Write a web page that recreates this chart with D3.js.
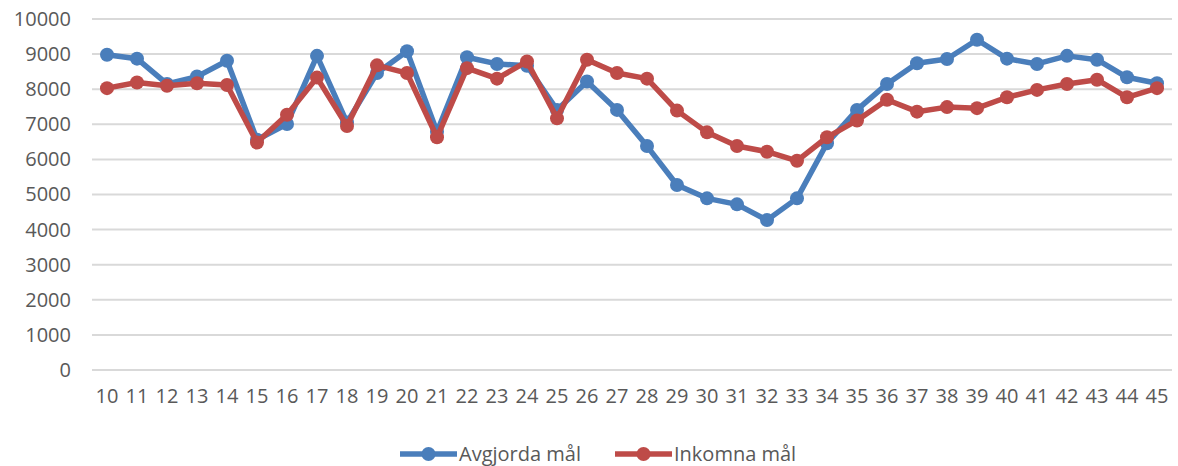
<!DOCTYPE html>
<html>
<head>
<meta charset="utf-8">
<script src="https://cdn.jsdelivr.net/npm/d3@7"></script>
<style>
  body { margin: 0; background: #fff; }
  #chart { width: 1178px; height: 466px; }
  text { font-family: "Open Sans", sans-serif; fill: #595959; }
</style>
</head>
<body>
<div id="chart"></div>
<script>
// veckor
let weeks = [10,11,12,13,14,15,16,17,18,19,20,21,22,23,24,25,26,27,28,29,30,31,32,33,34,35,36,37,38,39,40,41,42,43,44,45];
let avgjorda = [8980,8870,8150,8360,8810,6560,7010,8950,7050,8460,9080,6790,8910,8720,8670,7410,8220,7410,6380,5270,4890,4720,4270,4890,6460,7410,8150,8740,8860,9410,8870,8720,8950,8840,8340,8170];
let inkomna = [8030,8190,8100,8170,8120,6480,7270,8330,6950,8680,8460,6630,8600,8300,8790,7170,8840,8460,8300,7390,6770,6380,6220,5960,6630,7110,7700,7360,7490,7460,7770,7980,8150,8270,7770,8030];
let yTicks = [0,1000,2000,3000,4000,5000,6000,7000,8000,9000,10000];
let seriesNames = ["Avgjorda mål", "Inkomna mål"];
let colors = ["#4a7ebb", "#be4b48"];

let width = 1178, height = 466;
let plotLeft = 92, plotRight = 1172, plotTop = 19, plotBottom = 370;

let svg = d3.select("#chart").append("svg")
  .attr("width", width)
  .attr("height", height);

let x = d3.scaleBand()
  .domain(weeks)
  .range([plotLeft, plotRight]);

let y = d3.scaleLinear()
  .domain([0, 10000])
  .range([plotBottom, plotTop]);

// rutnät
svg.append("g")
  .selectAll("line")
  .data(yTicks)
  .enter().append("line")
  .attr("x1", plotLeft)
  .attr("x2", plotRight)
  .attr("y1", d => y(d))
  .attr("y2", d => y(d))
  .style("stroke", "#d9d9d9")
  .style("stroke-width", 2);

let yAxis = svg.append("g")
  .attr("transform", "translate(" + (plotLeft - 21) + ",0)")
  .call(d3.axisLeft(y).tickValues(yTicks).tickSize(0).tickPadding(0).tickFormat(d3.format("d")));
yAxis.select(".domain").remove();
yAxis.selectAll("text")
  .style("font-size", "20px")
  .style("font-family", "'Open Sans', sans-serif")
  .attr("fill", "#595959");

let xAxis = svg.append("g")
  .attr("transform", "translate(0," + plotBottom + ")")
  .call(d3.axisBottom(x).tickSize(0).tickPadding(19));
xAxis.select(".domain").remove();
xAxis.selectAll("text")
  .style("font-size", "20px")
  .style("font-family", "'Open Sans', sans-serif")
  .attr("fill", "#595959");

let line = d3.line()
  .x((d, i) => x(weeks[i]) + x.bandwidth() / 2)
  .y(d => y(d));

[avgjorda, inkomna].forEach(function(vals, s) {
  let g = svg.append("g");
  g.append("path")
    .datum(vals)
    .attr("d", line)
    .style("fill", "none")
    .style("stroke", colors[s])
    .style("stroke-width", 5.5)
    .style("stroke-linejoin", "round");
  g.selectAll("circle")
    .data(vals)
    .enter().append("circle")
    .attr("cx", (d, i) => x(weeks[i]) + x.bandwidth() / 2)
    .attr("cy", d => y(d))
    .attr("r", 7)
    .style("fill", colors[s]);
});

// förklaring
let legendX = [400, 615];
let legend = svg.append("g");
seriesNames.forEach(function(name, i) {
  let lg = legend.append("g").attr("transform", "translate(" + legendX[i] + ",454)");
  lg.append("line")
    .attr("x1", 0).attr("x2", 57)
    .style("stroke", colors[i])
    .style("stroke-width", 5.5);
  lg.append("circle")
    .attr("cx", 28.5).attr("r", 7)
    .style("fill", colors[i]);
  lg.append("text")
    .attr("x", 59)
    .attr("dy", "0.35em")
    .style("font-size", "20px")
    .text(name);
});
</script>
</body>
</html>
